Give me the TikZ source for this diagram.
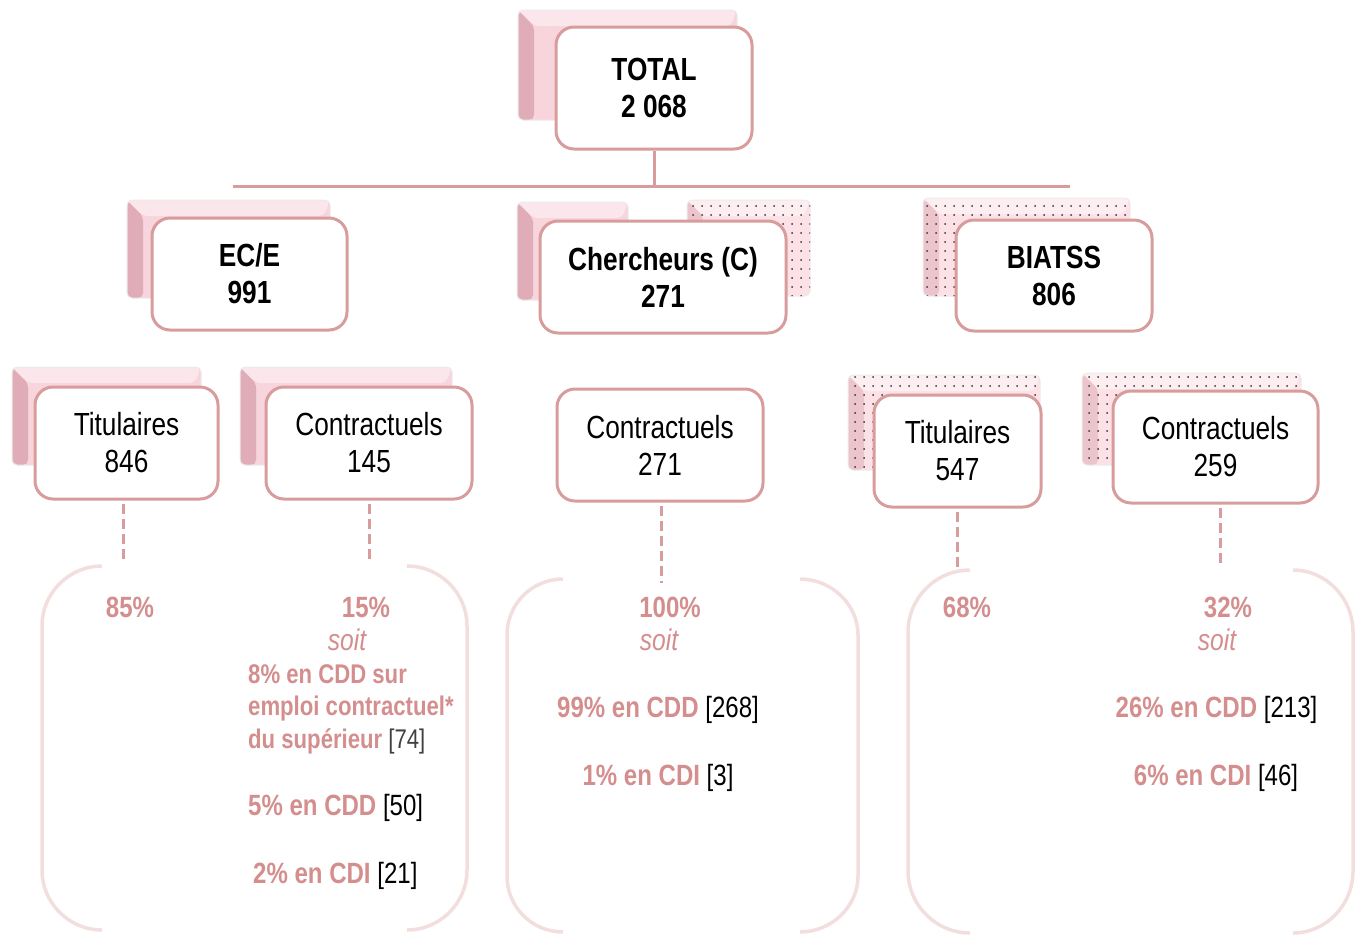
\documentclass[tikz,border=0pt]{standalone}
\usepackage{fontspec}
\setmainfont{Liberation Sans}[FakeStretch=0.82]
\usetikzlibrary{patterns.meta}
\definecolor{boxc}{RGB}{216,156,156}
\definecolor{pctc}{RGB}{212,142,142}
\definecolor{brc}{RGB}{243,222,222}
\definecolor{backp}{RGB}{248,212,220}
\definecolor{bevelc}{RGB}{224,172,184}
\definecolor{dotp}{RGB}{252,226,231}
\definecolor{dbevelc}{RGB}{236,196,204}
\tikzset{
  front/.style={draw=boxc, line width=3pt, rounded corners=18pt, fill=white, align=center, inner sep=0pt, text=black, font=\fontsize{32pt}{37pt}\selectfont},
  bevelpic/.style={path picture={
      \fill[#1] (path picture bounding box.north west) -- ([xshift=16pt,yshift=-16pt]path picture bounding box.north west)
        -- ([xshift=16pt]path picture bounding box.south west) -- (path picture bounding box.south west) -- cycle;
      \fill[white,opacity=0.45] (path picture bounding box.north west) -- ([xshift=16pt,yshift=-16pt]path picture bounding box.north west)
        -- ([xshift=-6pt,yshift=-16pt]path picture bounding box.north east) -- (path picture bounding box.north east) -- cycle;}},
  backbox/.style={fill=backp, rounded corners=5pt, inner sep=0pt, draw=black!8, line width=1pt, bevelpic=bevelc},
  dotbox/.style={fill=dotp, rounded corners=5pt, inner sep=0pt, draw=black!8, line width=1pt, bevelpic=dbevelc,
      postaction={pattern={Dots[distance=9pt,radius=1pt]}, pattern color=black!80}},
  bracket/.style={draw=brc, line width=3.5pt},
  link/.style={draw=boxc, line width=3pt},
  dashlink/.style={draw=boxc, line width=3pt, dash pattern=on 10pt off 5pt},
  pct/.style={text=pctc, inner sep=0pt, font=\bfseries\fontsize{29.3pt}{35pt}\selectfont},
  pcts/.style={text=pctc, inner sep=0pt, font=\bfseries\fontsize{27pt}{33pt}\selectfont},
  soitst/.style={text=pctc, inner sep=0pt, font=\itshape\fontsize{30pt}{35pt}\selectfont},
}
\newcommand{\nb}[1]{{\mdseries\color{black}#1}}
\begin{document}
\begin{tikzpicture}[x=1pt,y=-1pt]
\useasboundingbox (0,0) rectangle (1365,935);
% back boxes
\node[backbox, minimum width=219pt, minimum height=110pt] (btotal) at (627.5,65) {};
\node[backbox, minimum width=203pt, minimum height=98pt] (bece) at (228.5,249) {};
\node[backbox, minimum width=111pt, minimum height=98pt] (bchl) at (572.5,251) {};
\node[dotbox, minimum width=123pt, minimum height=96pt] (bchr) at (748.5,248) {};
\node[dotbox, minimum width=207pt, minimum height=98pt] (bbia) at (1026.5,247) {};
\node[backbox, minimum width=189pt, minimum height=98pt] (btec) at (106.5,416) {};
\node[backbox, minimum width=212pt, minimum height=98pt] (bcec) at (346,416) {};
\node[dotbox, minimum width=192pt, minimum height=95pt] (btb) at (944,422.5) {};
\node[dotbox, minimum width=219pt, minimum height=92pt] (bcb) at (1191.5,419) {};
% front boxes
\node[front, minimum width=196pt, minimum height=122pt] (total) at (654,88) {\bfseries TOTAL\\\bfseries 2 068};
\node[front, minimum width=195pt, minimum height=112pt] (ece) at (249.5,274) {\bfseries EC/E\\\bfseries 991};
\node[front, minimum width=246pt, minimum height=112pt] (ch) at (663,277) {\bfseries Chercheurs (C)\\\bfseries 271};
\node[front, minimum width=196pt, minimum height=111pt] (bia) at (1054,275.5) {\bfseries BIATSS\\\bfseries 806};
\node[front, minimum width=183pt, minimum height=112pt] (tec) at (126.5,443) {Titulaires\\846};
\node[front, minimum width=206pt, minimum height=112pt] (cec) at (369,443) {Contractuels\\145};
\node[front, minimum width=206pt, minimum height=112pt] (cc) at (660,445) {Contractuels\\271};
\node[front, minimum width=167pt, minimum height=112pt] (tb) at (957.5,451) {Titulaires\\547};
\node[front, minimum width=205pt, minimum height=112pt] (cb) at (1215.5,447) {Contractuels\\259};
% top connectors
\coordinate (hl) at (233,186);
\coordinate (hr) at (1070,186);
\draw[link] (total.south) -- (total.south |- hl);
\draw[link] (hl) -- (hr);
% dashed connectors
\coordinate (d1) at (123,562);
\coordinate (d2) at (369,562);
\coordinate (d3) at (661,583);
\coordinate (d4) at (957,568);
\coordinate (d5) at (1220,565);
\draw[dashlink] ([yshift=-3pt]tec.south -| d1) -- (d1);
\draw[dashlink] ([yshift=-3pt]cec.south -| d2) -- (d2);
\draw[dashlink] ([yshift=-3pt]cc.south -| d3) -- (d3);
\draw[dashlink] ([yshift=-3pt]tb.south -| d4) -- (d4);
\draw[dashlink] ([yshift=-3pt]cb.south -| d5) -- (d5);
% brackets
\draw[bracket] (102,566) .. controls (69,566) and (42,593) .. (42,626) -- (42,870) .. controls (42,903) and (69,930) .. (102,930);
\draw[bracket] (407,566) .. controls (440,566) and (467,593) .. (467,626) -- (467,870) .. controls (467,903) and (440,930) .. (407,930);
\draw[bracket] (563,579) .. controls (532,579) and (507,604) .. (507,635) -- (507,876) .. controls (507,907) and (532,932) .. (563,932);
\draw[bracket] (800,579) .. controls (831,579) and (858,604) .. (858,635) -- (858,876) .. controls (858,907) and (831,932) .. (800,932);
\draw[bracket] (970,570) .. controls (936,570) and (908,598) .. (908,632) -- (908,871) .. controls (908,905) and (936,933) .. (970,933);
\draw[bracket] (1293,570) .. controls (1326,570) and (1353,598) .. (1353,632) -- (1353,871) .. controls (1353,905) and (1326,933) .. (1293,933);
% texts group 1
\node[pct, anchor=base] (p85) at (130,617) {85\%};
\node[pct, anchor=base] (p15) at (366,617) {15\%};
\node[soitst, anchor=base] (s1) at (347,650) {soit};
\node[pcts, anchor=base west] (l1) at (248,683) {8\% en CDD sur};
\node[pcts, anchor=base west] (l2) at (248,715) {emploi contractuel*};
\node[pcts, anchor=base west] (l3) at (248,748) {du supérieur \nb{\color{black!75}[74]}};
\node[pct, anchor=base west] (l4) at (248,815) {5\% en CDD \nb{[50]}};
\node[pct, anchor=base west] (l5) at (253,883) {2\% en CDI \nb{[21]}};
% group 2
\node[pct, anchor=base] (p100) at (670,617) {100\%};
\node[soitst, anchor=base] (s2) at (659,650) {soit};
\node[pct, anchor=base] (m1) at (658,717) {99\% en CDD \nb{[268]}};
\node[pct, anchor=base] (m2) at (658,785) {1\% en CDI \nb{[3]}};
% group 3
\node[pct, anchor=base] (p68) at (967,617) {68\%};
\node[pct, anchor=base] (p32) at (1228,617) {32\%};
\node[soitst, anchor=base] (s3) at (1217,650) {soit};
\node[pct, anchor=base] (r1) at (1216.5,717) {26\% en CDD \nb{[213]}};
\node[pct, anchor=base] (r2) at (1216,785) {6\% en CDI \nb{[46]}};
\end{tikzpicture}
\end{document}
